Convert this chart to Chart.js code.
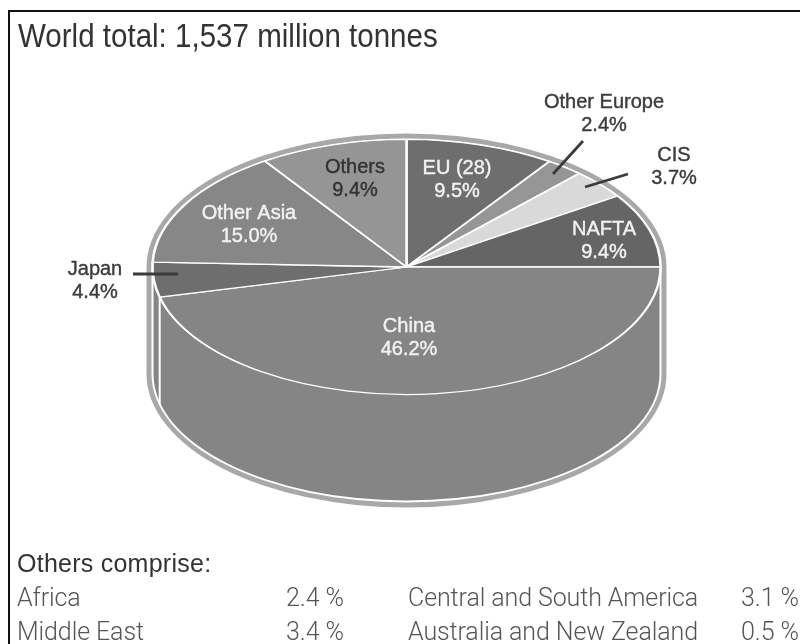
<!DOCTYPE html>
<html>
<head>
<meta charset="utf-8">
<title>World total</title>
<script src="https://cdn.jsdelivr.net/npm/chart.js@4"></script>
<style>
  html, body { margin: 0; padding: 0; background: #fff; }
  #wrap { position: relative; width: 800px; height: 644px; overflow: hidden; }
  canvas { position: absolute; left: 0; top: 0; }
  #frame { position: absolute; left: 8px; top: 10px; right: 0; bottom: 0; border-top: 2px solid #111; border-left: 2px solid #111; }
  .txt { position: absolute; white-space: nowrap; line-height: 1; }
  #heading { left: 18px; top: 17px; font: 33px "Liberation Sans", sans-serif; color: #333; transform: scaleX(0.895); transform-origin: left top; }
  #subheading { left: 17px; top: 549px; font: 25px "Liberation Sans", sans-serif; color: #333; letter-spacing: 0.25px; }
  .row { font: 300 25px Roboto, sans-serif; color: #555; letter-spacing: -0.1px; }
</style>
</head>
<body>
<div id="wrap">
  <canvas id="pie" width="800" height="644"></canvas>
  <div id="frame"></div>
  <div class="txt" id="heading">World total: 1,537 million tonnes</div>
  <div class="txt" id="subheading">Others comprise:</div>
</div>
<script>
const categories = ["EU (28)", "Other Europe", "CIS", "NAFTA", "China", "Japan", "Other Asia", "Others"];
const shares = [9.5, 2.4, 3.7, 9.4, 46.2, 4.4, 15.0, 9.4];
const sliceColors = ["#6e6e6e", "#969696", "#d9d9d9", "#656565", "#858585", "#6e6e6e", "#878787", "#959595"];

const otherNames = ["Africa", "Middle East", "Central and South America", "Australia and New Zealand"];
const otherShares = ["2.4 %", "3.4 %", "3.1 %", "0.5 %"];

// label centre (x, first line y), text colour
const labelSpots = [
  [457, 168, "#f2f2f2"], [604, 102, "#3c3c3c"], [674, 155, "#3c3c3c"], [604, 229, "#f2f2f2"],
  [409, 326, "#f2f2f2"], [95, 269, "#3c3c3c"], [249, 213, "#f2f2f2"], [355, 167, "#333333"]
];
const leaders = [[583, 141, 553, 174], [628, 174, 585, 187], [133, 274, 178, 274]];

const cx = 406.5, cy = 267, rx = 254, squash = 0.502, depth = 107, rim = 6;

// bottom table, two columns
const rowTops = [583, 617];
const nameLefts = [17, 408];
const shareLefts = [286, 741];
otherNames.forEach((name, i) => {
  const col = Math.floor(i / 2), top = rowTops[i % 2];
  [[name, nameLefts[col]], [otherShares[i], shareLefts[col]]].forEach(([text, left]) => {
    const el = document.createElement("div");
    el.className = "txt row";
    el.textContent = text;
    el.style.left = left + "px";
    el.style.top = top + "px";
    document.getElementById("wrap").appendChild(el);
  });
});

// outline of the drum, top half + straight sides + bottom half
function drumPath(ctx, x, y, a, b, h) {
  ctx.beginPath();
  ctx.ellipse(x, y, a, b, 0, Math.PI, 0);
  ctx.lineTo(x + a, y + h);
  ctx.ellipse(x, y + h, a, b, 0, 0, Math.PI);
  ctx.closePath();
}

const tiltedPie = {
  id: "tiltedPie",
  beforeDatasetsDraw(chart) {
    const ctx = chart.ctx;
    const arc = chart.getDatasetMeta(0).data[0];
    const a = arc.outerRadius, b = a * squash;
    ctx.save();
    [["#a8a8a8", rim], ["#ffffff", 1], ["#858585", -1]].forEach(([color, grow]) => {
      ctx.fillStyle = color;
      drumPath(ctx, arc.x, arc.y, a + grow, b + grow, depth);
      ctx.fill();
    });
    ctx.restore();

    // flatten the library's arcs into an ellipse
    ctx.save();
    ctx.translate(arc.x, arc.y);
    ctx.scale(1, squash);
    ctx.translate(-arc.x, -arc.y);
  },
  afterDatasetsDraw(chart) {
    const ctx = chart.ctx;
    ctx.restore();
    const meta = chart.getDatasetMeta(0).data;
    const china = meta[categories.indexOf("China")];
    const a = china.outerRadius, b = a * squash;

    // edge of the drum where the China slice ends
    const ex = china.x + a * Math.cos(china.endAngle);
    const ey = china.y + b * Math.sin(china.endAngle);
    const t = (ex - china.x) / a;
    ctx.save();
    ctx.strokeStyle = "#ffffff";
    ctx.lineWidth = 2;
    ctx.beginPath();
    ctx.moveTo(ex, ey);
    ctx.lineTo(ex, china.y + depth + b * Math.sqrt(1 - t * t));
    ctx.stroke();

    ctx.strokeStyle = "#3a3a3a";
    ctx.lineWidth = 2.8;
    leaders.forEach(([x1, y1, x2, y2]) => {
      ctx.beginPath();
      ctx.moveTo(x1, y1);
      ctx.lineTo(x2, y2);
      ctx.stroke();
    });

    // labels get a hairline stroke so they sit a little heavier than regular
    ctx.font = '20px "Liberation Sans", sans-serif';
    ctx.textAlign = "center";
    ctx.textBaseline = "middle";
    ctx.lineWidth = 0.4;
    categories.forEach((name, i) => {
      const [x, y, color] = labelSpots[i];
      ctx.fillStyle = color;
      ctx.strokeStyle = color;
      [[name, y], [shares[i].toFixed(1) + "%", y + 23]].forEach(([text, ty]) => {
        ctx.fillText(text, x, ty);
        ctx.strokeText(text, x, ty);
      });
    });
    ctx.restore();
  }
};

new Chart(document.getElementById("pie"), {
  type: "pie",
  data: {
    labels: categories,
    datasets: [{
      data: shares,
      backgroundColor: sliceColors,
      borderColor: "#ffffff",
      borderWidth: 2.5,
      hoverOffset: 0,
      clip: false
    }]
  },
  options: {
    responsive: false,
    animation: false,
    events: [],
    radius: rx,
    layout: { padding: { left: cx - rx, right: 800 - cx - rx, top: cy - rx, bottom: 644 - cy - rx } },
    plugins: { legend: { display: false }, tooltip: { enabled: false } }
  },
  plugins: [tiltedPie]
});
</script>
</body>
</html>
